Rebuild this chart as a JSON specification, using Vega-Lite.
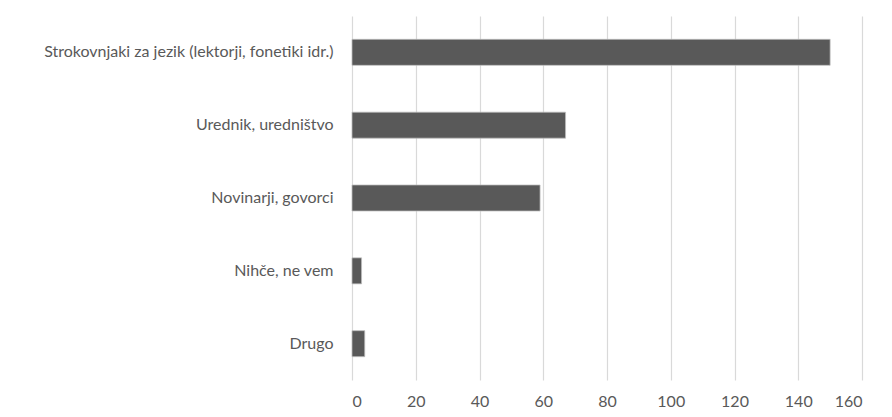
{
  "$schema": "https://vega.github.io/schema/vega-lite/v6.json",
  "autosize": {"type": "none"},
  "padding": {"left": 352, "top": 16, "right": 30, "bottom": 37},
  "width": 510,
  "height": 364,
  "background": "white",
  "data": {"values": [
    {"category": "Strokovnjaki za jezik (lektorji, fonetiki idr.)", "value": 150},
    {"category": "Urednik, uredništvo", "value": 67},
    {"category": "Novinarji, govorci", "value": 59},
    {"category": "Nihče, ne vem", "value": 3},
    {"category": "Drugo", "value": 4}
  ]},
  "mark": {"type": "bar", "color": "#595959", "stroke": "#bfbfbf", "strokeWidth": 0.75},
  "encoding": {
    "y": {"field": "category", "type": "nominal", "sort": null, "title": null,
      "scale": {"paddingInner": 0.643, "paddingOuter": 0.32},
      "axis": {"domain": false, "ticks": false, "labelPadding": 19, "labelFont": "Lato", "labelFontSize": 16, "labelColor": "#595959", "labelLimit": 400}},
    "x": {"field": "value", "type": "quantitative", "title": null,
      "scale": {"domain": [0, 160], "nice": false},
      "axis": {"values": [0, 20, 40, 60, 80, 100, 120, 140, 160], "domain": false, "ticks": false, "grid": true, "gridColor": "#d9d9d9", "gridWidth": 1.2, "labelPadding": 13, "labelFont": "Lato", "labelFontSize": 16, "labelColor": "#595959"}}
  },
  "config": {"view": {"stroke": null}}
}
